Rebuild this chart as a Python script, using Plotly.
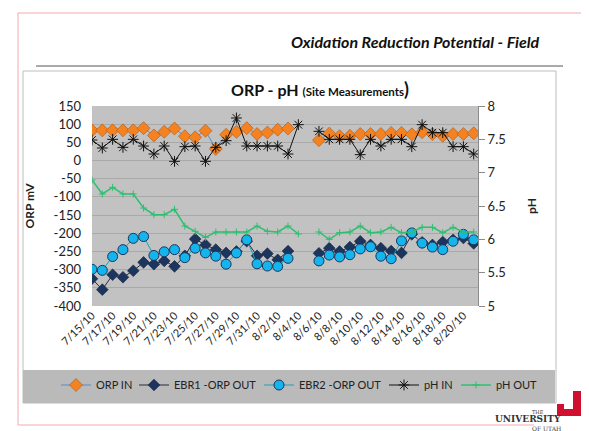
import plotly.graph_objects as go
import pandas as pd

# ---------------- data ----------------
dates = pd.date_range("2010-07-15", "2010-08-21", freq="D").strftime("%Y-%m-%d").tolist()
N = None
orp_in = [83, 83, 83, 83, 83, 89, 69, 79, 88, 67, 64, 82, 32, 71, 79, 89, 73, 77, 85, 88,
          N, N, 56, 74, 67, 68, 73, 73, 73, 76, 76, 72, 78, 73, 68, 73, 73, 75]
ebr1_out = [-325, -355, -314, -321, -303, -280, -285, -276, -291, -262, -216, -232, -245, -254, -250, -222,
            -262, -256, -273, -249, N, N, -255, -241, -250, -238, -222, -232, -241, -249, -254, -203,
            -225, -232, -224, -218, -213, -228]
ebr2_out = [-299, -302, -264, -245, -214, -209, -261, -251, -245, -267, -241, -254, -263, -285, -254, -218,
            -284, -290, -291, -269, N, N, -276, -260, -265, -259, -243, -237, -263, -270, -221, -199,
            -227, -238, -245, -222, -203, -218]
ph_in = [7.49, 7.37, 7.5, 7.38, 7.5, 7.4, 7.28, 7.4, 7.17, 7.39, 7.4, 7.17, 7.38, 7.48, 7.82, 7.4,
         7.4, 7.4, 7.4, 7.28, 7.72, N, 7.62, 7.5, 7.5, 7.5, 7.27, 7.5, 7.4, 7.5, 7.5, 7.39,
         7.72, 7.6, 7.6, 7.39, 7.39, 7.28]
ph_out = [6.89, 6.68, 6.78, 6.68, 6.68, 6.47, 6.37, 6.37, 6.45, 6.2, 6.12, 6.03, 6.11, 6.11, 6.11, 6.11,
          6.2, 6.12, 6.11, 6.2, 6.08, N, 6.11, 6.0, 6.1, 6.11, 6.2, 6.1, 6.11, 6.18, 6.1, 6.11,
          6.18, 6.18, 6.1, 6.18, 6.11, 6.11]

left_ticks = list(range(-400, 151, 50))
right_ticks = [5, 5.5, 6, 6.5, 7, 7.5, 8]

# ---------------- geometry helpers (pixel -> paper) ----------------
W, H = 589, 431
L, R, T, B = 84, 470, 98, 298
def px(x):
    return (x - L) / (R - L)
def py(y):
    return (B - y) / (B - T)

FONT = "Lato"

fig = go.Figure()
fig.add_trace(go.Scatter(x=dates, y=orp_in, name="ORP IN", mode="lines+markers", legend="legend",
                         line=dict(color="#5a8ec6", width=1),
                         marker=dict(symbol="diamond", size=10, color="#f58220",
                                     line=dict(color="#a8581a", width=0.6))))
fig.add_trace(go.Scatter(x=dates, y=ebr1_out, name="EBR1 -ORP OUT", mode="lines+markers", legend="legend2",
                         line=dict(color="#2b2b3a", width=1),
                         marker=dict(symbol="diamond", size=9, color="#1c355e",
                                     line=dict(color="#0f1f3a", width=0.6))))
fig.add_trace(go.Scatter(x=dates, y=ebr2_out, name="EBR2 -ORP OUT", mode="lines+markers", legend="legend3",
                         line=dict(color="#1aa3b8", width=1),
                         marker=dict(symbol="circle", size=10, color="#14b4ec",
                                     line=dict(color="#1c355e", width=1))))
fig.add_trace(go.Scatter(x=dates, y=ph_in, name="pH IN", mode="lines+markers", yaxis="y2", legend="legend4",
                         line=dict(color="#111111", width=1),
                         marker=dict(symbol="asterisk-open", size=9,
                                     line=dict(color="#111111", width=1))))
fig.add_trace(go.Scatter(x=dates, y=ph_out, name="pH OUT", mode="lines+markers", yaxis="y2", legend="legend5",
                         line=dict(color="#2fbf71", width=1.5),
                         marker=dict(symbol="cross-thin-open", size=5,
                                     line=dict(color="#2fbf71", width=1))))

shapes = []
pink = "#f3a9b0"
shapes += [
    dict(type="line", xref="paper", yref="paper", x0=px(10), x1=px(583), y0=py(5), y1=py(5), line=dict(color=pink, width=1)),
    dict(type="line", xref="paper", yref="paper", x0=px(10), x1=px(10), y0=py(5), y1=py(417), line=dict(color=pink, width=1)),
    dict(type="line", xref="paper", yref="paper", x0=px(583), x1=px(583), y0=py(5), y1=py(386), line=dict(color=pink, width=1)),
    dict(type="line", xref="paper", yref="paper", x0=px(10), x1=px(526), y0=py(417), y1=py(417), line=dict(color=pink, width=1)),
    dict(type="line", xref="paper", yref="paper", x0=px(28), x1=px(555), y0=py(58), y1=py(58), line=dict(color="#555555", width=1)),
    dict(type="rect", xref="paper", yref="paper", x0=px(15), x1=px(548), y0=py(63), y1=py(395),
         line=dict(color="#bdbdbd", width=1), fillcolor="rgba(0,0,0,0)", layer="below"),
    dict(type="rect", xref="paper", yref="paper", x0=px(15), x1=px(547), y0=py(362), y1=py(395),
         line=dict(width=0), fillcolor="#bababa", layer="below"),
    dict(type="path", xref="paper", yref="paper",
         path=(f"M {px(549)},{py(396)} L {px(556)},{py(396)} L {px(556)},{py(401)} L {px(565)},{py(401)} "
               f"L {px(565)},{py(383)} L {px(574)},{py(383)} L {px(574)},{py(408)} L {px(549)},{py(408)} Z"),
         fillcolor="#d0102e", line=dict(width=0)),
]

annotations = [
    dict(text="<b><i>Oxidation Reduction Potential - Field</i></b>", x=px(534), y=py(33), xref="paper", yref="paper",
         xanchor="right", yanchor="middle", showarrow=False, font=dict(family=FONT, size=16, color="#111111")),
    dict(text="<b>ORP - pH <span style='font-size:11.5px'>(Site Measurements</span><span style='font-size:18px'>)</span></b>",
         x=px(312), y=py(81), xref="paper", yref="paper", xanchor="center", yanchor="middle", showarrow=False,
         font=dict(family=FONT, size=16, color="#111111")),
    dict(text="THE", x=px(538), y=py(409), xref="paper", yref="paper", showarrow=False,
         font=dict(family="DejaVu Serif", size=5, color="#333333")),
    dict(text="<b>UNIVERSITY</b>", x=px(555), y=py(418), xref="paper", yref="paper", showarrow=False,
         font=dict(family="DejaVu Serif", size=9, color="#333333")),
    dict(text="OF UTAH", x=px(555), y=py(426), xref="paper", yref="paper", showarrow=False,
         font=dict(family="DejaVu Serif", size=6, color="#333333")),
]

leg_common = dict(orientation="h", xanchor="left", yanchor="middle", bgcolor="rgba(0,0,0,0)",
                  font=dict(family=FONT, size=11, color="#222222"), itemwidth=30)
sym_centers = [70, 148, 273, 398, 470]
legends = {}
for i, c in enumerate(sym_centers):
    key = "legend" if i == 0 else f"legend{i+1}"
    legends[key] = dict(leg_common, x=px(c - 22), y=py(377))

fig.update_layout(
    width=W, height=H,
    margin=dict(l=L, r=W - R, t=T, b=H - B, pad=0, autoexpand=False),
    paper_bgcolor="white",
    plot_bgcolor="#c2c2c2",
    font=dict(family=FONT, color="#222222"),
    showlegend=True,
    xaxis=dict(type="date", range=["2010-07-15", "2010-08-21 10:00"], tick0="2010-07-15",
               dtick=2 * 86400000, tickformat="%-m/%-d/%y", tickangle=-45, automargin=False,
               tickfont=dict(family=FONT, size=11, color="#222222"), showgrid=False,
               zeroline=False, showline=False, ticks=""),
    yaxis=dict(range=[-400, 150], tickvals=left_ticks, ticktext=[str(v) for v in left_ticks],
               tickfont=dict(family=FONT, size=13, color="#222222"), showgrid=True, automargin=False,
               gridcolor="#a9a9a9", gridwidth=1, zeroline=False, showline=False, ticks="",
               ticklabelstandoff=10,
               title=dict(text="<b>ORP mV</b>", font=dict(family=FONT, size=12, color="#222222"), standoff=16)),
    yaxis2=dict(range=[5, 8], overlaying="y", side="right", tickvals=right_ticks, automargin=False,
                ticktext=[f"{v:g}" for v in right_ticks],
                tickfont=dict(family=FONT, size=13, color="#222222"), showgrid=False, zeroline=False,
                showline=True, linecolor="#8a8a8a", linewidth=1, ticks="outside", ticklen=6,
                tickcolor="#8a8a8a",
                title=dict(text="<b>pH</b>", font=dict(family=FONT, size=12, color="#222222"), standoff=22)),
    shapes=shapes,
    annotations=annotations,
    **legends,
)

fig.write_html("out.html")
